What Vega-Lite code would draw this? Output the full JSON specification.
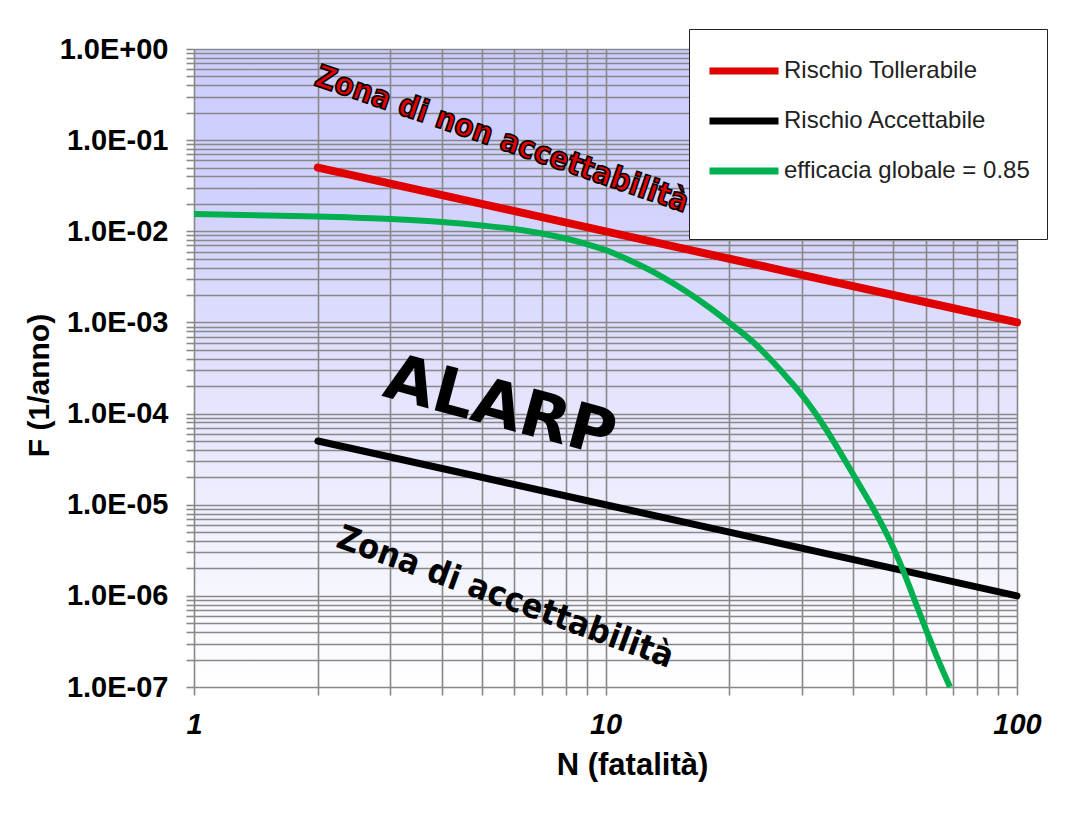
{
  "$schema": "https://vega.github.io/schema/vega-lite/v6.json",
  "width": 823,
  "height": 638,
  "autosize": {"type": "none"},
  "padding": {"left": 194, "top": 49, "right": 58, "bottom": 143},
  "background": "white",
  "config": {
    "view": {
      "stroke": null,
      "fill": {
        "gradient": "linear", "x1": 0, "y1": 0, "x2": 0, "y2": 1,
        "stops": [
          {"offset": 0, "color": "#ccccff"},
          {"offset": 0.25, "color": "#d2d2fd"},
          {"offset": 1, "color": "#ffffff"}
        ]
      }
    },
    "axis": {
      "grid": true,
      "gridColor": "#888888",
      "gridWidth": 1.6,
      "gridOpacity": 1,
      "domain": false,
      "tickColor": "#888888",
      "tickWidth": 1.6,
      "tickSize": 8,
      "labelFont": "Liberation Sans",
      "labelFontWeight": "bold",
      "labelFontSize": 29,
      "labelColor": "#000000",
      "labelOverlap": false,
      "labelBound": false,
      "labelFlush": false,
      "titleFont": "Liberation Sans",
      "titleFontWeight": "bold",
      "titleColor": "#000000"
    }
  },
  "datasets": {
    "red": [
      {"N": 2, "F": 0.05, "serie": "Rischio Tollerabile"},
      {"N": 3, "F": 0.0333, "serie": "Rischio Tollerabile"},
      {"N": 5, "F": 0.02, "serie": "Rischio Tollerabile"},
      {"N": 7, "F": 0.0143, "serie": "Rischio Tollerabile"},
      {"N": 10, "F": 0.01, "serie": "Rischio Tollerabile"},
      {"N": 15, "F": 0.00667, "serie": "Rischio Tollerabile"},
      {"N": 20, "F": 0.005, "serie": "Rischio Tollerabile"},
      {"N": 30, "F": 0.00333, "serie": "Rischio Tollerabile"},
      {"N": 50, "F": 0.002, "serie": "Rischio Tollerabile"},
      {"N": 70, "F": 0.00143, "serie": "Rischio Tollerabile"},
      {"N": 100, "F": 0.001, "serie": "Rischio Tollerabile"}
    ],
    "black": [
      {"N": 2, "F": 0.00005, "serie": "Rischio Accettabile"},
      {"N": 5, "F": 0.00002, "serie": "Rischio Accettabile"},
      {"N": 10, "F": 0.00001, "serie": "Rischio Accettabile"},
      {"N": 20, "F": 0.000005, "serie": "Rischio Accettabile"},
      {"N": 50, "F": 0.000002, "serie": "Rischio Accettabile"},
      {"N": 100, "F": 0.000001, "serie": "Rischio Accettabile"}
    ],
    "green": [
      {"N": 1, "F": 0.01547, "serie": "efficacia globale = 0.85"},
      {"N": 2, "F": 0.01453, "serie": "efficacia globale = 0.85"},
      {"N": 3, "F": 0.01364, "serie": "efficacia globale = 0.85"},
      {"N": 4, "F": 0.01264, "serie": "efficacia globale = 0.85"},
      {"N": 5, "F": 0.01157, "serie": "efficacia globale = 0.85"},
      {"N": 6, "F": 0.01059, "serie": "efficacia globale = 0.85"},
      {"N": 7, "F": 0.00945, "serie": "efficacia globale = 0.85"},
      {"N": 8, "F": 0.00833, "serie": "efficacia globale = 0.85"},
      {"N": 9, "F": 0.00725, "serie": "efficacia globale = 0.85"},
      {"N": 10, "F": 0.00623, "serie": "efficacia globale = 0.85"},
      {"N": 11.47, "F": 0.00478, "serie": "efficacia globale = 0.85"},
      {"N": 13.57, "F": 0.00327, "serie": "efficacia globale = 0.85"},
      {"N": 15.78, "F": 0.002157, "serie": "efficacia globale = 0.85"},
      {"N": 17.95, "F": 0.001439, "serie": "efficacia globale = 0.85"},
      {"N": 19.96, "F": 0.000998, "serie": "efficacia globale = 0.85"},
      {"N": 22.83, "F": 0.00061, "serie": "efficacia globale = 0.85"},
      {"N": 25.53, "F": 0.000368, "serie": "efficacia globale = 0.85"},
      {"N": 28.08, "F": 0.000228, "serie": "efficacia globale = 0.85"},
      {"N": 29.86, "F": 0.000164, "serie": "efficacia globale = 0.85"},
      {"N": 33.2, "F": 0.000085, "serie": "efficacia globale = 0.85"},
      {"N": 39.94, "F": 0.0000217, "serie": "efficacia globale = 0.85"},
      {"N": 46.46, "F": 0.00000663, "serie": "efficacia globale = 0.85"},
      {"N": 49.95, "F": 0.00000344, "serie": "efficacia globale = 0.85"},
      {"N": 52.84, "F": 0.00000192, "serie": "efficacia globale = 0.85"},
      {"N": 55.88, "F": 0.000000996, "serie": "efficacia globale = 0.85"},
      {"N": 59.76, "F": 0.000000455, "serie": "efficacia globale = 0.85"},
      {"N": 63.92, "F": 0.000000213, "serie": "efficacia globale = 0.85"},
      {"N": 68.74, "F": 0.0000001, "serie": "efficacia globale = 0.85"}
    ],
    "txtRed": [{"N": 5.6, "F": 0.1, "label": "Zona di non accettabilità"}],
    "txtAlarp": [{"N": 5.54, "F": 0.000115, "label": "ALARP"}],
    "txtBlack": [{"N": 5.7, "F": 0.00000095, "label": "Zona di accettabilità"}]
  },
  "encoding": {
    "x": {
      "field": "N", "type": "quantitative",
      "scale": {"type": "log", "domain": [1, 100], "nice": false},
      "axis": {
        "title": "N (fatalità)",
        "titleFontSize": 31,
        "titlePadding": 11,
        "titleX": 438,
        "labelFontStyle": "italic",
        "labelPadding": 15,
        "values": [1, 2, 3, 4, 5, 6, 7, 8, 9, 10, 20, 30, 40, 50, 60, 70, 80, 90, 100],
        "labelExpr": "abs(datum.value / pow(10, round(log(datum.value) / LN10)) - 1) < 0.01 ? '' + round(datum.value) : ''"
      }
    },
    "y": {
      "field": "F", "type": "quantitative",
      "scale": {"type": "log", "domain": [0.0000001, 1], "nice": false},
      "axis": {
        "title": "F (1/anno)",
        "titleFontSize": 30,
        "titlePadding": 5,
        "titleY": 336,
        "labelPadding": 18,
        "values": [1e-7, 2e-7, 3e-7, 4e-7, 5e-7, 6e-7, 7e-7, 8e-7, 9e-7,
                   1e-6, 2e-6, 3e-6, 4e-6, 5e-6, 6e-6, 7e-6, 8e-6, 9e-6,
                   1e-5, 2e-5, 3e-5, 4e-5, 5e-5, 6e-5, 7e-5, 8e-5, 9e-5,
                   1e-4, 2e-4, 3e-4, 4e-4, 5e-4, 6e-4, 7e-4, 8e-4, 9e-4,
                   1e-3, 2e-3, 3e-3, 4e-3, 5e-3, 6e-3, 7e-3, 8e-3, 9e-3,
                   1e-2, 2e-2, 3e-2, 4e-2, 5e-2, 6e-2, 7e-2, 8e-2, 9e-2,
                   1e-1, 2e-1, 3e-1, 4e-1, 5e-1, 6e-1, 7e-1, 8e-1, 9e-1, 1],
        "labelExpr": "abs(datum.value / pow(10, round(log(datum.value) / LN10)) - 1) < 0.01 ? '1.0E' + (round(log(datum.value) / LN10) < 0 ? '-' : '+') + (abs(round(log(datum.value) / LN10)) < 10 ? '0' : '') + abs(round(log(datum.value) / LN10)) : ''"
      }
    }
  },
  "layer": [
    {
      "data": {"name": "red"},
      "mark": {"type": "line", "strokeWidth": 8, "strokeCap": "round"},
      "encoding": {
        "color": {
          "field": "serie", "type": "nominal",
          "scale": {
            "domain": ["Rischio Tollerabile", "Rischio Accettabile", "efficacia globale = 0.85"],
            "range": ["#e00000", "#000000", "#00b04f"]
          },
          "legend": {
            "title": " ",
            "titleOrient": "bottom",
            "titleFontSize": 18,
            "titlePadding": 8,
            "orient": "none",
            "legendX": 495,
            "legendY": -20,
            "fillColor": "#ffffff",
            "strokeColor": "#222222",
            "padding": 17,
            "clipHeight": 50,
            "rowPadding": 0,
            "symbolType": "stroke",
            "symbolSize": 4761,
            "symbolStrokeWidth": 7,
            "labelFont": "Liberation Sans",
            "labelFontSize": 24,
            "labelColor": "#222222",
            "labelOffset": 2,
            "labelLimit": 400
          }
        }
      }
    },
    {
      "data": {"name": "black"},
      "mark": {"type": "line", "strokeWidth": 7, "strokeCap": "round"},
      "encoding": {"color": {"field": "serie", "type": "nominal"}}
    },
    {
      "data": {"name": "green"},
      "mark": {"type": "line", "strokeWidth": 6, "interpolate": "monotone"},
      "encoding": {"color": {"field": "serie", "type": "nominal"}}
    },
    {
      "data": {"name": "txtRed"},
      "mark": {
        "type": "text", "angle": 19, "font": "DejaVu Sans Condensed, sans-serif",
        "fontWeight": "bold", "fontSize": 31, "fill": "#e00000", "stroke": "#000000", "strokeWidth": 1.6,
        "align": "center", "baseline": "middle"
      },
      "encoding": {"text": {"field": "label"}}
    },
    {
      "data": {"name": "txtAlarp"},
      "mark": {
        "type": "text", "angle": 15, "font": "DejaVu Sans",
        "fontWeight": "bold", "fontSize": 64, "fill": "#000000",
        "align": "center", "baseline": "middle"
      },
      "encoding": {"text": {"field": "label"}}
    },
    {
      "data": {"name": "txtBlack"},
      "mark": {
        "type": "text", "angle": 20, "font": "DejaVu Sans Condensed, sans-serif",
        "fontWeight": "bold", "fontSize": 34, "fill": "#000000",
        "align": "center", "baseline": "middle"
      },
      "encoding": {"text": {"field": "label"}}
    }
  ]
}
